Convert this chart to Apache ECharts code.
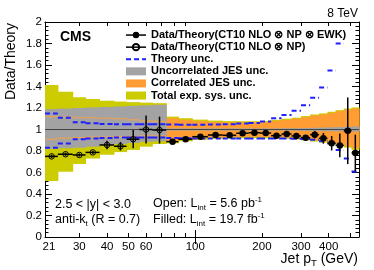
<!DOCTYPE html>
<html><head><meta charset="utf-8">
<script src="https://cdn.jsdelivr.net/npm/echarts@6/dist/echarts.min.js"></script>
<style>html,body{margin:0;padding:0;background:#fff}#c{width:374px;height:270px}</style>
</head><body><div id="c"></div>
<script>
// ---- data ----
const binEdges = [21,24,28,32,37,43,49,56,64,74,84,97,114,133,153,174,196,220,245,272,300,330,362,395,430,468,507,548];
const nLowBins = 9; // bins 21-74 use the low-PU sample (open points)
const totalUp   = [1.414,1.352,1.30,1.284,1.268,1.26,1.255,1.25,1.245, 1.12,1.105,1.092,1.083,1.078,1.077,1.077,1.08,1.09,1.10,1.11,1.125,1.14,1.15,1.165,1.18,1.195,1.205];
const totalDown = [0.52,0.607,0.68,0.73,0.765,0.79,0.81,0.84,0.865, 0.872,0.89,0.905,0.913,0.918,0.92,0.92,0.918,0.916,0.913,0.908,0.898,0.888,0.878,0.862,0.847,0.832,0.81];
const uncorrUp   = [1.19,1.195,1.20,1.205,1.21,1.215,1.22,1.225,1.23, 1.01,1.01,1.01,1.01,1.01,1.01,1.01,1.01,1.01,1.012,1.012,1.014,1.016,1.018,1.02,1.022,1.025,1.028];
const uncorrDown = [0.82,0.825,0.83,0.84,0.855,0.865,0.875,0.885,0.89, 0.99,0.99,0.99,0.99,0.99,0.99,0.99,0.99,0.99,0.989,0.988,0.987,0.986,0.985,0.984,0.983,0.982,0.98];
const corrUp   = [1.12,1.115,1.11,1.108,1.105,1.10,1.09,1.08,1.075, 1.105,1.09,1.078,1.07,1.066,1.065,1.066,1.07,1.08,1.09,1.10,1.115,1.13,1.14,1.155,1.17,1.185,1.195];
const corrDown = [0.91,0.92,0.925,0.93,0.93,0.935,0.935,0.94,0.94, 0.89,0.905,0.918,0.925,0.93,0.932,0.932,0.93,0.928,0.925,0.92,0.91,0.90,0.89,0.875,0.86,0.845,0.825];
const theoryUp   = [1.15,1.11,1.067,1.058,1.052,1.05,1.048,1.048,1.048, 1.046,1.045,1.045,1.046,1.05,1.055,1.06,1.075,1.105,1.135,1.175,1.225,1.295,1.39,1.55,1.80,null,null];
const theoryDown = [0.83,0.87,0.91,0.917,0.922,0.925,0.925,0.925,0.925, 0.92,0.918,0.917,0.917,0.917,0.917,0.917,0.917,0.917,0.916,0.915,0.912,0.905,0.89,0.87,0.81,0.73,0.61];
const openRatio = [0.75,0.77,0.763,0.787,0.856,0.844,0.91,1.0,0.995];
const openErr   = [0.015,0.015,0.015,0.015,0.04,0.04,0.085,0.13,0.125];
const filledRatio = [0.887,0.909,0.933,0.949,0.946,0.965,0.97,0.967,0.943,0.958,0.94,0.924,0.952,0.918,0.872,0.852,0.988,0.782];
const filledErr   = [0.01,0.01,0.01,0.01,0.01,0.012,0.012,0.013,0.015,0.017,0.02,0.025,0.035,0.05,0.067,0.11,0.31,0.17];
const xLabelValues = [21,30,40,50,60,100,200,300,400];
const xShortTicks = [30,40,50,60,70,80,90,200,300,400,500];
const xLongTicks = [100];

const FONT = '"Liberation Sans", Arial, Helvetica, sans-serif';
const nameFilled = 'Data/Theory(CT10 NLO \u2297 NP \u2297 EWK)';
const nameOpen = 'Data/Theory(CT10 NLO \u2297 NP)';
const nameTheory = 'Theory unc.';
const nameUncorr = 'Uncorrelated JES unc.';
const nameCorr = 'Correlated JES unc.';
const nameTotal = 'Total exp. sys. unc.';

// ---- derived series data ----
function bandData(up, down, from, to) {
  const out = [];
  for (let i = from; i < to; i++) out.push([binEdges[i], binEdges[i+1], down[i], up[i]]);
  return out;
}
const nBins = binEdges.length - 1;
const totalBand = bandData(totalUp, totalDown, 0, nBins);
const uncorrBand = bandData(uncorrUp, uncorrDown, 0, nBins);
const corrBand = bandData(corrUp, corrDown, nLowBins, nBins);
const corrEdges = bandData(corrUp, corrDown, 0, nLowBins);
const theoryData = [];
[theoryUp, theoryDown].forEach(arr => {
  for (let i = 0; i < nBins; i++) {
    if (arr[i] == null) continue;
    theoryData.push([binEdges[i], arr[i]], [binEdges[i+1], arr[i]], [binEdges[i+1], '-']);
  }
});
const openPts = openRatio.map((v, i) => [(binEdges[i] + binEdges[i+1]) / 2, v]);
const openBars = openRatio.map((v, i) => [(binEdges[i] + binEdges[i+1]) / 2, v, binEdges[i], binEdges[i+1], openErr[i]]);
const filledPts = filledRatio.map((v, k) => { const i = k + nLowBins; return [(binEdges[i] + binEdges[i+1]) / 2, v]; });
const filledBars = filledRatio.map((v, k) => { const i = k + nLowBins; return [(binEdges[i] + binEdges[i+1]) / 2, v, binEdges[i], binEdges[i+1], filledErr[k]]; });

function rectItem(params, api) {
  const a = api.coord([api.value(0), api.value(3)]);
  const b = api.coord([api.value(1), api.value(2)]);
  return { type: 'rect', shape: { x: a[0], y: a[1], width: b[0] - a[0] + 0.5, height: b[1] - a[1] }, style: api.style() };
}
function edgeItem(params, api) {
  const x0 = api.value(0), x1 = api.value(1);
  const a = api.coord([x0, api.value(2)]), b = api.coord([x1, api.value(2)]);
  const c = api.coord([x0, api.value(3)]), d = api.coord([x1, api.value(3)]);
  const st = { stroke: '#f7a04a', lineWidth: 1 };
  return { type: 'group', children: [
    { type: 'line', shape: { x1: a[0], y1: a[1], x2: b[0], y2: b[1] }, style: st },
    { type: 'line', shape: { x1: c[0], y1: c[1], x2: d[0], y2: d[1] }, style: st }
  ]};
}
function errItem(params, api) {
  const xc = api.value(0), y = api.value(1), lo = api.value(2), hi = api.value(3), e = api.value(4);
  const p0 = api.coord([lo, y]), p1 = api.coord([hi, y]);
  const q0 = api.coord([xc, y - e]), q1 = api.coord([xc, y + e]);
  const st = { stroke: '#000', lineWidth: 1.5 };
  return { type: 'group', children: [
    { type: 'line', shape: { x1: p0[0], y1: p0[1], x2: p1[0], y2: p1[1] }, style: st },
    { type: 'line', shape: { x1: q0[0], y1: q0[1], x2: q1[0], y2: q1[1] }, style: st }
  ]};
}

const chart = echarts.init(document.getElementById('c'), null, { renderer: 'canvas' });
const xBase = { type: 'log', logBase: 10, min: 21, max: 548, splitLine: { show: false },
  axisLine: { show: true, onZero: false, lineStyle: { color: '#000', width: 1 } } };
const yBase = { type: 'value', min: 0, max: 2, interval: 0.2, splitLine: { show: false },
  axisLine: { show: true, onZero: false, lineStyle: { color: '#000', width: 1 } },
  axisTick: { inside: true, length: 7, lineStyle: { color: '#000' } },
  minorTick: { show: true, splitNumber: 5, length: 3.5, lineStyle: { color: '#000' } } };

chart.setOption({
  animation: false,
  backgroundColor: '#fff',
  textStyle: { fontFamily: FONT },
  grid: { left: 45, right: 15, top: 22, bottom: 33, containLabel: false },
  xAxis: [
    Object.assign({}, xBase, { position: 'bottom',
      axisTick: { inside: true, length: 4, customValues: xShortTicks, lineStyle: { color: '#000' } },
      axisLabel: { customValues: xLabelValues, margin: 4, fontSize: 11.5, color: '#000', fontFamily: FONT,
        formatter: v => { const r = Math.round(v); return r === 21 ? '{m|21}' : String(r); },
        rich: { m: { padding: [0, 0, 0, 8], fontSize: 11.5, fontFamily: FONT, color: '#000' } } } }),
    Object.assign({}, xBase, { position: 'top',
      axisTick: { inside: true, length: 4, customValues: xShortTicks, lineStyle: { color: '#000' } },
      axisLabel: { show: false } }),
    Object.assign({}, xBase, { position: 'bottom', axisLine: { show: false },
      axisTick: { inside: true, length: 7, customValues: xLongTicks, lineStyle: { color: '#000' } },
      axisLabel: { show: false } }),
    Object.assign({}, xBase, { position: 'top', axisLine: { show: false },
      axisTick: { inside: true, length: 7, customValues: xLongTicks, lineStyle: { color: '#000' } },
      axisLabel: { show: false } })
  ],
  yAxis: [
    Object.assign({}, yBase, { position: 'left',
      axisLabel: { margin: 3, fontSize: 11.5, color: '#000', fontFamily: FONT } }),
    Object.assign({}, yBase, { position: 'right', axisLabel: { show: false } })
  ],
  legend: {
    orient: 'vertical', left: 125, top: 29, padding: 0, itemWidth: 20, itemHeight: 8, itemGap: 0,
    selectedMode: false,
    textStyle: { fontSize: 11, fontWeight: 'bold', fontFamily: FONT, color: '#000', lineHeight: 12.1 },
    data: [
      { name: nameFilled, lineStyle: { width: 1.5, opacity: 1, color: '#000' } },
      { name: nameOpen, lineStyle: { width: 1.5, opacity: 1, color: '#000' } },
      { name: nameTheory, itemStyle: { opacity: 0 } },
      { name: nameUncorr, icon: 'rect' },
      { name: nameCorr, icon: 'rect' },
      { name: nameTotal, icon: 'rect' }
    ]
  },
  series: [
    { type: 'custom', name: nameTotal, renderItem: rectItem, data: totalBand, encode: { x: [0, 1], y: [2, 3] },
      itemStyle: { color: '#cccc00' }, z: 1, silent: true },
    { type: 'custom', name: nameCorr, renderItem: rectItem, data: corrBand, encode: { x: [0, 1], y: [2, 3] },
      itemStyle: { color: '#ff9c33' }, z: 2, silent: true },
    { type: 'custom', name: nameUncorr, renderItem: rectItem, data: uncorrBand, encode: { x: [0, 1], y: [2, 3] },
      itemStyle: { color: '#a3a3a3' }, z: 3, silent: true,
      markLine: { silent: true, symbol: 'none', label: { show: false }, lineStyle: { color: '#444', width: 1, type: 'solid' },
        data: [{ yAxis: 1 }] } },
    { type: 'custom', renderItem: edgeItem, data: corrEdges, encode: { x: [0, 1], y: [2, 3] }, z: 4, silent: true },
    { type: 'line', name: nameTheory, data: theoryData, showSymbol: false, symbol: 'none', connectNulls: false,
      lineStyle: { color: '#1f1fff', width: 2, type: [5, 3] }, itemStyle: { color: '#1f1fff' }, z: 5, silent: true },
    { type: 'custom', renderItem: errItem, data: openBars, encode: { x: 0, y: 1 }, z: 6, silent: true },
    { type: 'custom', renderItem: errItem, data: filledBars, encode: { x: 0, y: 1 }, z: 6, silent: true },
    { type: 'line', name: nameOpen, data: openPts, symbol: 'circle', symbolSize: 5.5, showSymbol: true,
      lineStyle: { width: 0, opacity: 0 }, itemStyle: { color: 'rgba(0,0,0,0)', borderColor: '#000', borderWidth: 1 }, z: 7, silent: true },
    { type: 'line', name: nameFilled, data: filledPts, symbol: 'circle', symbolSize: 6.5, showSymbol: true,
      lineStyle: { width: 0, opacity: 0 }, itemStyle: { color: '#000' }, z: 7, silent: true }
  ],
  graphic: [
    { type: 'text', x: 60, y: 37, style: { text: 'CMS', font: 'bold 14px ' + FONT, fill: '#000', align: 'left', verticalAlign: 'middle' } },
    { type: 'text', x: 358, y: 13.5, style: { text: '8 TeV', font: '12px ' + FONT, fill: '#000', align: 'right', verticalAlign: 'middle' } },
    { type: 'text', x: 11, y: 23, rotation: Math.PI / 2, style: { text: 'Data/Theory', font: '14px ' + FONT, fill: '#000', align: 'right', verticalAlign: 'middle' } },
    { type: 'text', x: 358, y: 259, style: { text: 'Jet p{s|T} (GeV)', font: '14px ' + FONT, fill: '#000', align: 'right', verticalAlign: 'middle',
        rich: { s: { fontSize: 9.5, fontFamily: FONT, padding: [9, 0, 0, 0], verticalAlign: 'bottom' } } } },
    { type: 'text', x: 55, y: 204.5, style: { text: '2.5 < |y| < 3.0', font: '12.5px ' + FONT, fill: '#000', align: 'left', verticalAlign: 'middle' } },
    { type: 'text', x: 55, y: 220, style: { text: 'anti-k{s|t} (R = 0.7)', font: '12.5px ' + FONT, fill: '#000', align: 'left', verticalAlign: 'middle',
        rich: { s: { fontSize: 8, fontFamily: FONT, padding: [8, 0, 0, 0], verticalAlign: 'bottom' } } } },
    { type: 'text', x: 153, y: 204, style: { text: 'Open: L{s|int} = 5.6 pb{p|-1}', font: '12.5px ' + FONT, fill: '#000', align: 'left', verticalAlign: 'middle',
        rich: { s: { fontSize: 8, fontFamily: FONT, padding: [8, 0, 0, 0], verticalAlign: 'bottom' },
                p: { fontSize: 8, fontFamily: FONT, padding: [0, 0, 8, 0], verticalAlign: 'top' } } } },
    { type: 'text', x: 153, y: 219.5, style: { text: 'Filled: L{s|int} = 19.7 fb{p|-1}', font: '12.5px ' + FONT, fill: '#000', align: 'left', verticalAlign: 'middle',
        rich: { s: { fontSize: 8, fontFamily: FONT, padding: [8, 0, 0, 0], verticalAlign: 'bottom' },
                p: { fontSize: 8, fontFamily: FONT, padding: [0, 0, 8, 0], verticalAlign: 'top' } } } }
  ]
});
</script></body></html>
